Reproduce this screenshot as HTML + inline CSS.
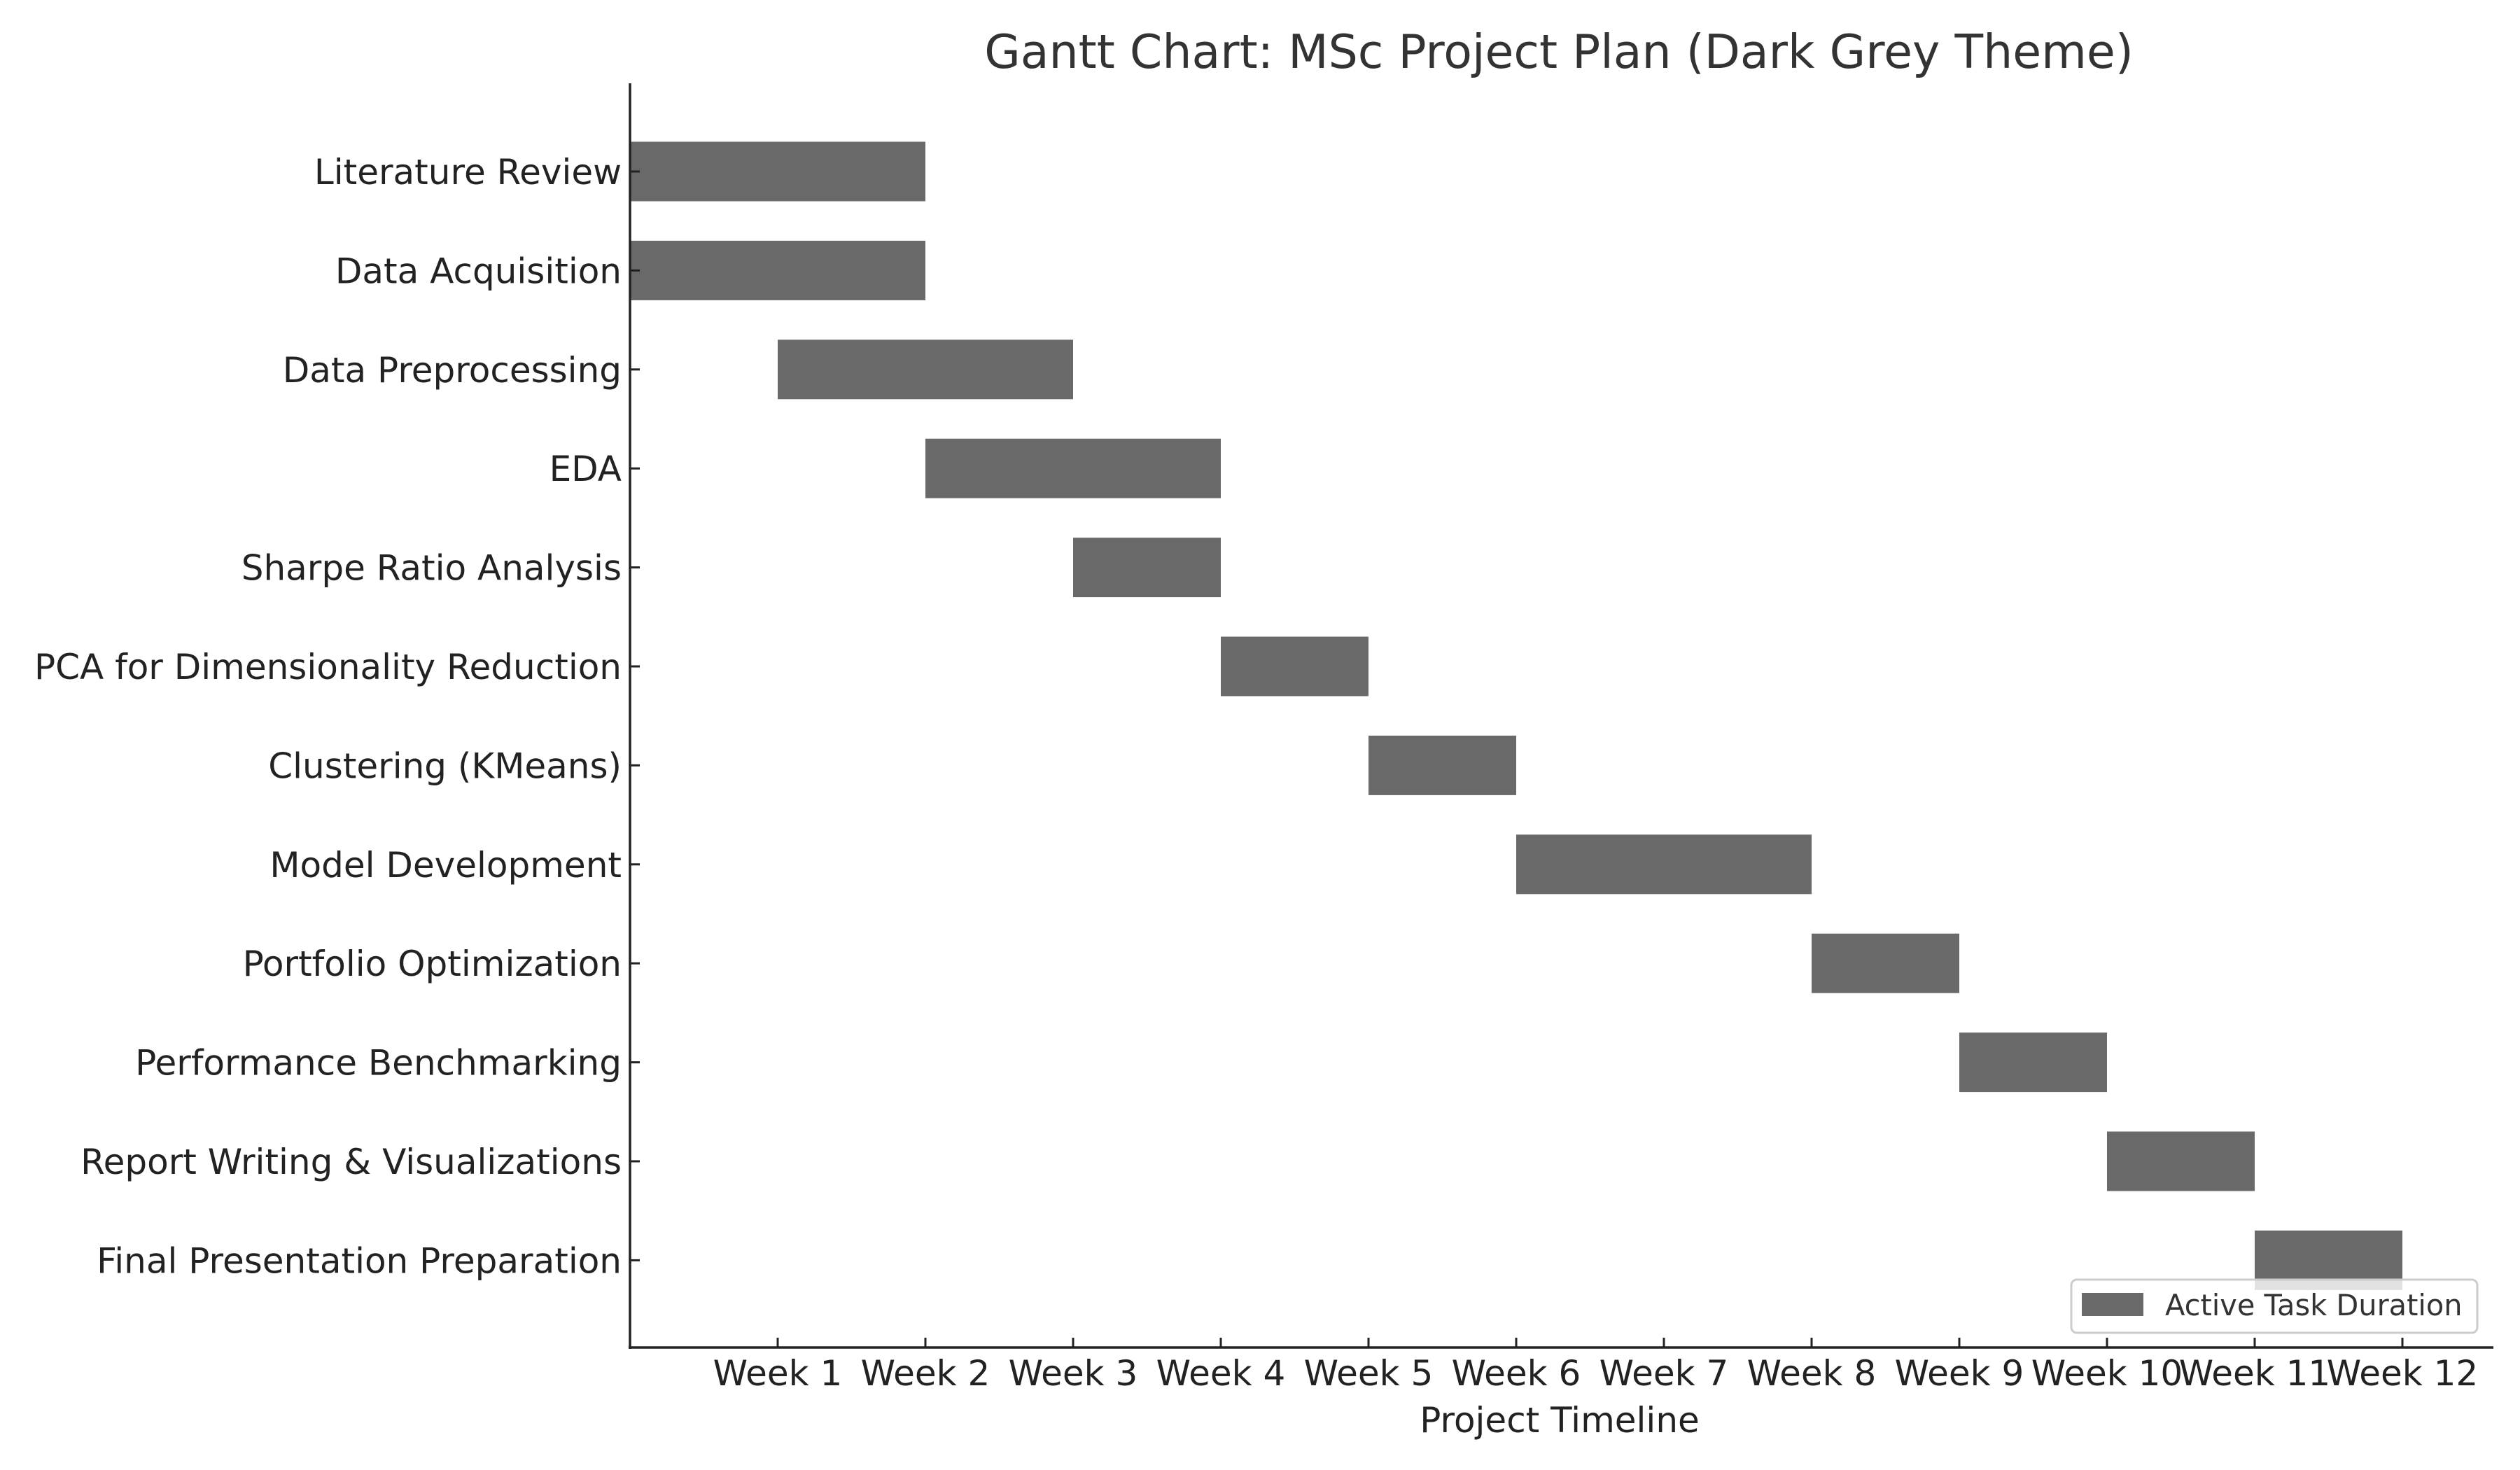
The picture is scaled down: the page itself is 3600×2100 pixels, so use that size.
<!DOCTYPE html>
<html><head><meta charset="utf-8"><style>
html,body{margin:0;padding:0;background:#fff;}
svg{display:block;font-family:"DejaVu Sans","Liberation Sans",sans-serif;}
</style></head><body>
<svg id="chart" width="3600" height="2100" viewBox="0 0 3600 2100">
<rect x="0" y="0" width="3600" height="2100" fill="#fff"/>
<text x="2227" y="97" text-anchor="middle" font-size="66.5" fill="#333">Gantt Chart: MSc Project Plan (Dark Grey Theme)</text>
<g id="bars"></g>
<g id="yticks"></g>
<g id="xticks"></g>
<line x1="900" y1="119" x2="900" y2="1927" stroke="#222" stroke-width="3.5"/>
<line x1="898" y1="1925" x2="3562" y2="1925" stroke="#222" stroke-width="3.5"/>
<text x="2228" y="2046" text-anchor="middle" font-size="50" fill="#222">Project Timeline</text>
<g>
<rect x="2959" y="1828" width="580" height="76" rx="8" fill="#fff" fill-opacity="0.8" stroke="#ccc" stroke-width="3"/>
<rect x="2974" y="1847" width="88" height="33" fill="#696969"/>
<text x="3093" y="1879" font-size="41.5" fill="#333">Active Task Duration</text>
</g>
</svg>
<script>
const tasks = ["Literature Review","Data Acquisition","Data Preprocessing","EDA","Sharpe Ratio Analysis","PCA for Dimensionality Reduction","Clustering (KMeans)","Model Development","Portfolio Optimization","Performance Benchmarking","Report Writing & Visualizations","Final Presentation Preparation"];
const starts = [0,0,1,2,3,4,5,6,8,9,10,11];
const durations = [2,2,2,2,1,1,1,2,1,1,1,1];
const weekTicks = [1,2,3,4,5,6,7,8,9,10,11,12];
const weekLabels = ["Week 1","Week 2","Week 3","Week 4","Week 5","Week 6","Week 7","Week 8","Week 9","Week 10","Week 11","Week 12"];

const NS = "http://www.w3.org/2000/svg";
function xScale(v){ return 900 + v*211; }
function yScale(i){ return 245 + i*141.4; }
const barH = 85;
const bars = document.getElementById('bars');
const yt = document.getElementById('yticks');
const xt = document.getElementById('xticks');
tasks.forEach((t,i)=>{
  const r = document.createElementNS(NS,'rect');
  r.setAttribute('x', xScale(starts[i]));
  r.setAttribute('y', yScale(i)-barH/2);
  r.setAttribute('width', xScale(starts[i]+durations[i])-xScale(starts[i]));
  r.setAttribute('height', barH);
  r.setAttribute('fill', '#696969');
  
  
  bars.appendChild(r);
  const tk = document.createElementNS(NS,'line');
  tk.setAttribute('x1', 900); tk.setAttribute('x2', 914);
  tk.setAttribute('y1', yScale(i)); tk.setAttribute('y2', yScale(i));
  tk.setAttribute('stroke', '#222'); tk.setAttribute('stroke-width', '3');
  
  
  yt.appendChild(tk);
  const lb = document.createElementNS(NS,'text');
  lb.setAttribute('x', 888); lb.setAttribute('y', yScale(i)+18);
  lb.setAttribute('text-anchor', 'end'); lb.setAttribute('font-size', '50'); lb.setAttribute('fill', '#222');
  lb.textContent = t;
  
  
  yt.appendChild(lb);
});
weekTicks.forEach((w,i)=>{
  const tk = document.createElementNS(NS,'line');
  tk.setAttribute('x1', xScale(w)); tk.setAttribute('x2', xScale(w));
  tk.setAttribute('y1', 1911); tk.setAttribute('y2', 1925);
  tk.setAttribute('stroke', '#222'); tk.setAttribute('stroke-width', '3');
  
  
  xt.appendChild(tk);
  const lb = document.createElementNS(NS,'text');
  lb.setAttribute('x', xScale(w)); lb.setAttribute('y', 1979);
  lb.setAttribute('text-anchor', 'middle'); lb.setAttribute('font-size', '50'); lb.setAttribute('fill', '#222');
  lb.textContent = weekLabels[i];
  
  
  xt.appendChild(lb);
});
</script>
</body></html>
